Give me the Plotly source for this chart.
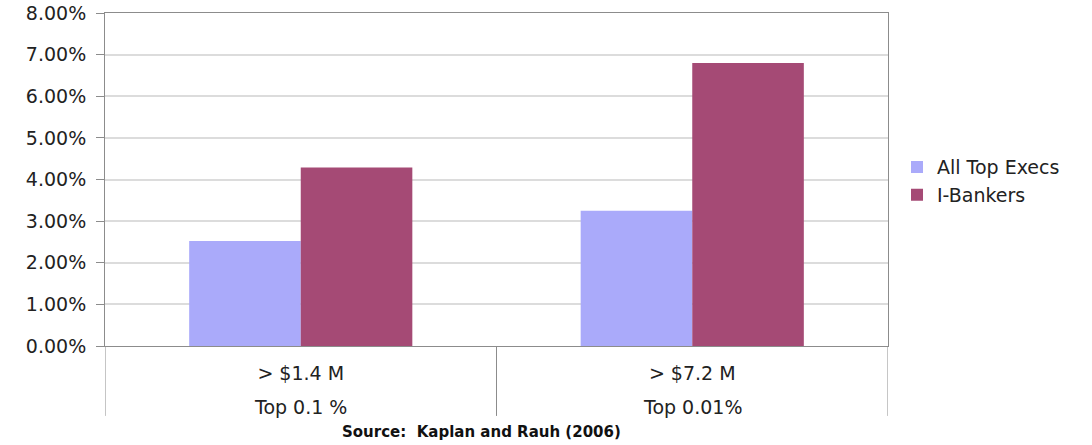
import plotly.graph_objects as go

# Share of top earners by income threshold
categories = ["> $1.4 M", "> $7.2 M"]
groups = ["Top 0.1 %", "Top 0.01%"]
series_names = ["All Top Execs", "I-Bankers"]
all_top_execs = [0.0252, 0.0325]
i_bankers = [0.0429, 0.0680]
y_ticks = [0.00, 0.01, 0.02, 0.03, 0.04, 0.05, 0.06, 0.07, 0.08]

BLUE = "#aaaafa"
CRIMSON = "#a54a75"
AXIS = "#8c8c8c"
GRID = "#dcdcdc"
TEXT = "#222222"
FONT = "DejaVu Sans, Verdana, sans-serif"

fig = go.Figure()
fig.add_trace(go.Bar(name=series_names[0], x=categories, y=all_top_execs,
                     marker=dict(color=BLUE, line=dict(width=0))))
fig.add_trace(go.Bar(name=series_names[1], x=categories, y=i_bankers,
                     marker=dict(color=CRIMSON, line=dict(width=0))))

# Category dividers extending below the plot
n = len(categories)
for k in range(n + 1):
    fig.add_shape(type="line", xref="x", yref="paper",
                  x0=k - 0.5, x1=k - 0.5, y0=0, y1=-0.21,
                  line=dict(color=AXIS, width=1))

# Second row of category labels
for k, g in enumerate(groups):
    fig.add_annotation(x=categories[k], y=-0.183, xref="x", yref="paper",
                       text=g, showarrow=False, yanchor="middle",
                       font=dict(family=FONT, size=19, color=TEXT))

fig.add_annotation(x=0.481, y=-0.258, xref="paper", yref="paper",
                   text="<b>Source:\u00a0 Kaplan and Rauh (2006)</b>",
                   showarrow=False, yanchor="middle",
                   font=dict(family=FONT, size=15, color="#111111"))

fig.update_layout(
    width=1092, height=445, autosize=False,
    margin=dict(l=105, r=204, t=13, b=99, autoexpand=False),
    paper_bgcolor="white", plot_bgcolor="white",
    barmode="group", bargap=0.43, bargroupgap=0,
    font=dict(family=FONT, size=19, color=TEXT),
    legend=dict(x=1.0115, y=0.495, xanchor="left", yanchor="middle",
                font=dict(family=FONT, size=19, color=TEXT),
                tracegroupgap=0, itemsizing="constant"),
    xaxis=dict(type="category", showgrid=False, ticks="",
               showline=True, linecolor=AXIS, linewidth=1, mirror=True,
               tickfont=dict(family=FONT, size=19, color=TEXT),
               ticklabelstandoff=10, automargin=False,
               range=[-0.5, n - 0.5]),
    yaxis=dict(range=[0, 0.08], tickvals=y_ticks, tickformat=".2%",
               showgrid=True, gridcolor=GRID, gridwidth=1.5,
               showline=True, linecolor=AXIS, linewidth=1, mirror=True,
               ticks="outside", ticklen=8, tickcolor=AXIS,
               tickfont=dict(family=FONT, size=19, color=TEXT),
               ticklabelstandoff=6, automargin=False,
               zeroline=False),
)

fig.write_html("out.html")
